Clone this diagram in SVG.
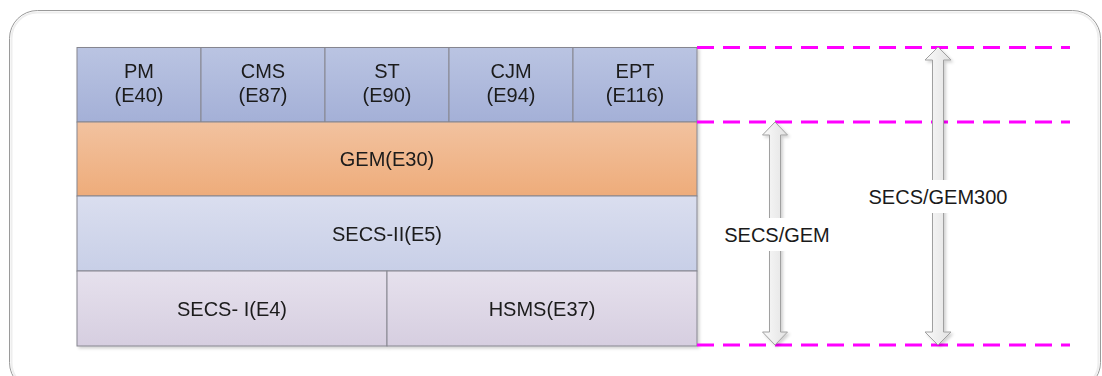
<svg xmlns="http://www.w3.org/2000/svg" width="1102" height="376" viewBox="0 0 1102 376">
<defs>
<linearGradient id="gBlue" x1="0" y1="0" x2="0" y2="1"><stop offset="0" stop-color="#bac4e2"/><stop offset="1" stop-color="#a4b0d7"/></linearGradient>
<linearGradient id="gOrange" x1="0" y1="0" x2="0" y2="1"><stop offset="0" stop-color="#f2c29f"/><stop offset="1" stop-color="#eeac7a"/></linearGradient>
<linearGradient id="gLight" x1="0" y1="0" x2="0" y2="1"><stop offset="0" stop-color="#dadeef"/><stop offset="1" stop-color="#c8cfe7"/></linearGradient>
<linearGradient id="gLav" x1="0" y1="0" x2="0" y2="1"><stop offset="0" stop-color="#e6e1ed"/><stop offset="1" stop-color="#d6cee0"/></linearGradient>
<linearGradient id="gArrow" x1="0" y1="0" x2="1" y2="0"><stop offset="0" stop-color="#fafafa"/><stop offset="1" stop-color="#e2e2e2"/></linearGradient>
<filter id="sh" x="-5%" y="-5%" width="110%" height="115%"><feDropShadow dx="2" dy="2" stdDeviation="1.5" flood-color="#000" flood-opacity="0.18"/></filter>
</defs>
<style>
.cell{stroke:#86868f;stroke-width:1}
.t{font-family:"Liberation Sans",Arial,sans-serif;font-size:20px;fill:#1a1a1a;text-anchor:middle}
.dash{stroke:#ff00ff;stroke-width:3;stroke-dasharray:17 9;fill:none}
.arrow{fill:url(#gArrow);stroke:#a0a0a0;stroke-width:1}
</style>
<rect x="9.5" y="10.5" width="1091" height="380" rx="28" fill="#fff" stroke="#9a9a9a" stroke-width="1"/>
<rect x="11.5" y="12.5" width="1087" height="376" rx="26" fill="none" stroke="#eeeeee" stroke-width="2"/>
<g filter="url(#sh)">
<g id="pm"><rect class="cell" x="77" y="47.5" width="124" height="74.5" fill="url(#gBlue)"/><text class="t" x="139" y="78">PM</text><text class="t" x="139" y="101.5">(E40)</text></g>
<g id="cms"><rect class="cell" x="201" y="47.5" width="124" height="74.5" fill="url(#gBlue)"/><text class="t" x="263" y="78">CMS</text><text class="t" x="263" y="101.5">(E87)</text></g>
<g id="st"><rect class="cell" x="325" y="47.5" width="124" height="74.5" fill="url(#gBlue)"/><text class="t" x="387" y="78">ST</text><text class="t" x="387" y="101.5">(E90)</text></g>
<g id="cjm"><rect class="cell" x="449" y="47.5" width="124" height="74.5" fill="url(#gBlue)"/><text class="t" x="511" y="78">CJM</text><text class="t" x="511" y="101.5">(E94)</text></g>
<g id="ept"><rect class="cell" x="573" y="47.5" width="124" height="74.5" fill="url(#gBlue)"/><text class="t" x="635" y="78">EPT</text><text class="t" x="635" y="101.5">(E116)</text></g>
<g id="gem"><rect class="cell" x="77" y="122" width="620" height="74" fill="url(#gOrange)"/><text class="t" x="387" y="166">GEM(E30)</text></g>
<g id="secs2"><rect class="cell" x="77" y="196" width="620" height="75" fill="url(#gLight)"/><text class="t" x="387" y="241">SECS-II(E5)</text></g>
<g id="secs1"><rect class="cell" x="77" y="271" width="310" height="75" fill="url(#gLav)"/><text class="t" x="232" y="316">SECS- I(E4)</text></g>
<g id="hsms"><rect class="cell" x="387" y="271" width="310" height="75" fill="url(#gLav)"/><text class="t" x="542" y="316">HSMS(E37)</text></g>
</g>
<g id="connectors">
<line class="dash" x1="697" y1="47.5" x2="1070" y2="47.5"/>
<line class="dash" x1="697" y1="122" x2="1070" y2="122"/>
<line class="dash" x1="697" y1="345" x2="1070" y2="345"/>
<g filter="url(#sh)">
<polygon class="arrow" points="775,122 787.5,135 780.5,135 780.5,332 787.5,332 775,345 762.5,332 769.5,332 769.5,135 762.5,135"/>
<polygon class="arrow" points="938,47 951,60 943.5,60 943.5,332 951,332 938,345 925,332 932.5,332 932.5,60 925,60"/>
</g>
<g id="lbl-secsgem"><rect x="722" y="218" width="110" height="33" fill="#fff"/><text class="t" x="777" y="242">SECS/GEM</text></g>
<g id="lbl-secsgem300"><rect x="865" y="180" width="147" height="33" fill="#fff"/><text class="t" x="938" y="204">SECS/GEM300</text></g>
</g>
</svg>
